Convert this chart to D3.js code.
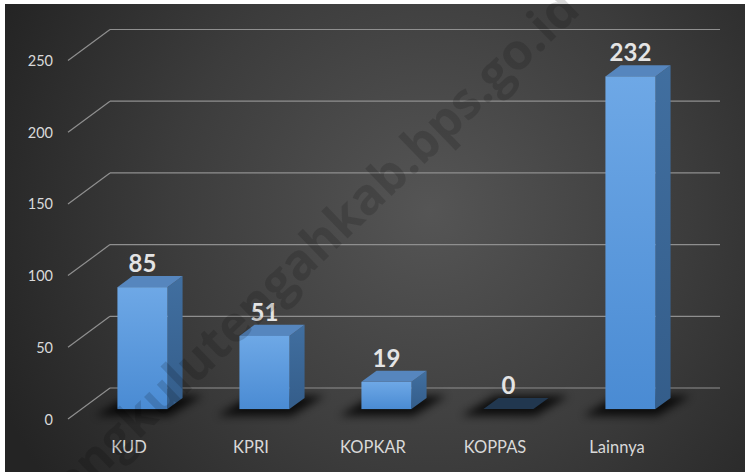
<!DOCTYPE html>
<html>
<head>
<meta charset="utf-8">
<script src="https://cdn.jsdelivr.net/npm/d3@7"></script>
<style>
  html, body { margin: 0; padding: 0; background: #fff; }
  svg { display: block; }
</style>
</head>
<body>
<svg id="chart"></svg>
<script>
// data
const categories = ['KUD', 'KPRI', 'KOPKAR', 'KOPPAS', 'Lainnya'];
const values = [85, 51, 19, 0, 232];
const yTicks = [0, 50, 100, 150, 200, 250];

const width = 745;
const height = 472;

const svg = d3.select('#chart')
    .attr('width', width)
    .attr('height', height);

const defs = svg.append('defs');

// background gradient
const bg = defs.append('radialGradient')
    .attr('id', 'bg')
    .attr('gradientUnits', 'userSpaceOnUse')
    .attr('cx', 430).attr('cy', 210).attr('r', 470);
bg.append('stop').attr('offset', '0%').attr('stop-color', '#555555');
bg.append('stop').attr('offset', '55%').attr('stop-color', '#3c3c3c');
bg.append('stop').attr('offset', '100%').attr('stop-color', '#242424');

const front = defs.append('linearGradient')
    .attr('id', 'front').attr('x1', 0).attr('y1', 0).attr('x2', 0).attr('y2', 1);
front.append('stop').attr('offset', '0%').attr('stop-color', '#6ea8e6');
front.append('stop').attr('offset', '100%').attr('stop-color', '#4a8bd3');

const side = defs.append('linearGradient')
    .attr('id', 'side').attr('x1', 0).attr('y1', 0).attr('x2', 0).attr('y2', 1);
side.append('stop').attr('offset', '0%').attr('stop-color', '#416fa0');
side.append('stop').attr('offset', '100%').attr('stop-color', '#345d8a');

defs.append('filter')
    .attr('id', 'blur')
    .attr('x', '-50%').attr('y', '-100%').attr('width', '200%').attr('height', '300%')
    .append('feGaussianBlur').attr('stdDeviation', 4);

svg.append('rect')
    .attr('x', 5).attr('y', 4)
    .attr('width', width - 5).attr('height', height - 4)
    .attr('fill', 'url(#bg)');

// 3D layout: floor front edge at z=0, back wall at z=1
const baseY = 419;
const depthX = 42;
const depthY = 31;

const x = d3.scaleBand()
    .domain(categories)
    .range([68, 678])
    .paddingInner(0.59)
    .paddingOuter(0.295);

const y = d3.scaleLinear()
    .domain([0, 250])
    .range([0, 358.5]);

function proj(px, v, z) {
    return [px + depthX * z, baseY - y(v) - depthY * z];
}

// gridlines: diagonal on the left wall, horizontal on the back wall
const grid = svg.append('g')
    .attr('stroke', '#8f8f8f')
    .attr('stroke-width', 1.2)
    .attr('fill', 'none');

grid.selectAll('.back')
    .data(yTicks)
    .enter()
    .append('line')
    .attr('x1', d => proj(68, d, 1)[0])
    .attr('y1', d => proj(68, d, 1)[1])
    .attr('x2', d => proj(678, d, 1)[0])
    .attr('y2', d => proj(678, d, 1)[1]);

grid.selectAll('.wall')
    .data(yTicks)
    .enter()
    .append('line')
    .attr('x1', d => proj(68, d, 0)[0])
    .attr('y1', d => proj(68, d, 0)[1])
    .attr('x2', d => proj(68, d, 1)[0])
    .attr('y2', d => proj(68, d, 1)[1]);

// y labels
svg.append('g')
    .selectAll('text')
    .data(yTicks)
    .enter()
    .append('text')
    .attr('x', 53)
    .attr('y', d => proj(68, d, 0)[1] + 5.5)
    .attr('text-anchor', 'end')
    .style('font-family', 'Lato, sans-serif')
    .style('font-size', '14.5px')
    .style('fill', '#d9d9d9')
    .text(d => d);

const z0 = 0.32;
const z1 = 0.68;
const pts = arr => arr.map(p => p.join(',')).join(' ');

const bars = svg.selectAll('.bar')
    .data(categories.map((c, i) => ({ cat: c, value: values[i] })))
    .enter()
    .append('g')
    .attr('class', 'bar');

// floor shadow
bars.append('polygon')
    .attr('points', d => {
        const a = x(d.cat) - 14, b = x(d.cat) + x.bandwidth() + 10;
        return pts([proj(a, 0, 0.2), proj(b, 0, 0.2), proj(b + 6, 0, 0.85), proj(a + 6, 0, 0.85)]);
    })
    .attr('transform', 'translate(-3,3)')
    .attr('fill', '#000')
    .attr('opacity', 0.8)
    .attr('filter', 'url(#blur)');

bars.filter(d => d.value > 0).append('polygon')
    .attr('points', d => {
        const b = x(d.cat) + x.bandwidth();
        return pts([proj(b, d.value, z0), proj(b, d.value, z1), proj(b, 0, z1), proj(b, 0, z0)]);
    })
    .attr('fill', 'url(#side)');

bars.append('polygon')
    .attr('points', d => {
        const a = x(d.cat), b = a + x.bandwidth();
        return pts([proj(a, d.value, z0), proj(a, d.value, z1), proj(b, d.value, z1), proj(b, d.value, z0)]);
    })
    .attr('fill', d => d.value > 0 ? '#5686be' : '#21374f');

bars.filter(d => d.value > 0).append('rect')
    .attr('x', d => proj(x(d.cat), d.value, z0)[0])
    .attr('y', d => proj(x(d.cat), d.value, z0)[1])
    .attr('width', x.bandwidth())
    .attr('height', d => y(d.value))
    .attr('fill', 'url(#front)');

// value labels
bars.append('text')
    .attr('x', d => proj(x(d.cat) + x.bandwidth() / 2, d.value, z0)[0])
    .attr('y', d => proj(x(d.cat), d.value, z1)[1] - 4)
    .attr('text-anchor', 'middle')
    .style('font-family', 'Lato, sans-serif')
    .style('font-weight', 'bold')
    .style('font-size', '24px')
    .style('fill', '#e4e4e4')
    .text(d => d.value);

// category labels
svg.append('g')
    .selectAll('text')
    .data(categories)
    .enter()
    .append('text')
    .attr('x', d => x(d) + x.bandwidth() / 2)
    .attr('y', 453)
    .attr('text-anchor', 'middle')
    .style('font-family', 'Lato, sans-serif')
    .style('font-size', '16.5px')
    .style('fill', '#d9d9d9')
    .text(d => d);

// watermark
svg.append('text')
    .attr('transform', 'translate(582,12) rotate(-44)')
    .attr('text-anchor', 'end')
    .style('font-family', '"Open Sans", sans-serif')
    .style('font-weight', 'bold')
    .style('font-size', '50px')
    .style('fill', '#000')
    .style('opacity', 0.14)
    .text('bengkulutengahkab.bps.go.id');
</script>
</body>
</html>
